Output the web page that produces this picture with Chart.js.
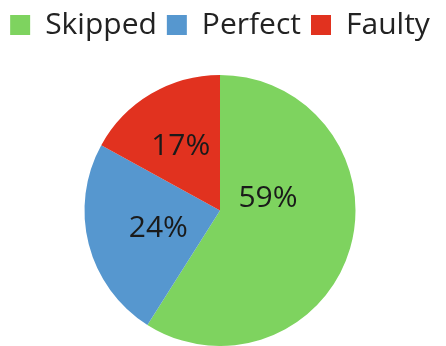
<!DOCTYPE html>
<html>
<head>
<meta charset="utf-8">
<script src="https://cdn.jsdelivr.net/npm/chart.js@4"></script>
<style>
  html, body { margin: 0; padding: 0; background: #fff; }
  #wrap { width: 446px; height: 346px; }
</style>
</head>
<body>
<div id="wrap"><canvas id="pie-outcomes"></canvas></div>
<script>
  const categorias = ['Skipped', 'Perfect', 'Faulty'];
  const porcentajes = [59, 24, 17];
  const colores = ['#7ed35f', '#5697cf', '#e1321f'];

  // extra gap under the legend
  const legendGap = {
    id: 'legendGap',
    beforeInit(chart) {
      const fit = chart.legend.fit;
      chart.legend.fit = function () {
        fit.call(this);
        this.height += 25;
      };
    }
  };

  // percentage text inside each slice
  const sliceLabels = {
    id: 'sliceLabels',
    afterDatasetsDraw(chart, args, opts) {
      const ctx = chart.ctx;
      const meta = chart.getDatasetMeta(0);
      ctx.save();
      ctx.font = opts.font;
      ctx.fillStyle = opts.color;
      ctx.textAlign = 'center';
      ctx.textBaseline = 'middle';
      meta.data.forEach((arc, i) => {
        const p = arc.getProps(['x', 'y', 'startAngle', 'endAngle', 'outerRadius'], true);
        const mid = (p.startAngle + p.endAngle) / 2 + (opts.shift[i] || 0) * Math.PI / 180;
        const r = p.outerRadius * opts.radius[i];
        ctx.fillText(porcentajes[i] + '%', p.x + Math.cos(mid) * r, p.y + Math.sin(mid) * r + 2);
      });
      ctx.restore();
    }
  };

  new Chart(document.getElementById('pie-outcomes'), {
    type: 'pie',
    data: {
      labels: categorias,
      datasets: [{
        data: porcentajes,
        backgroundColor: colores,
        borderWidth: 0
      }]
    },
    options: {
      responsive: true,
      maintainAspectRatio: false,
      animation: false,
      layout: { padding: { left: 0, right: 6, top: 0, bottom: 0 } },
      plugins: {
        legend: {
          position: 'top',
          labels: {
            boxWidth: 20,
            boxHeight: 20,
            padding: 10,
            color: '#222',
            font: { family: 'Open Sans', size: 30 }
          }
        },
        tooltip: { enabled: false },
        sliceLabels: {
          font: '30px "Open Sans"',
          color: '#1a1a1a',
          radius: [0.37, 0.47, 0.57],
          shift: [-33, 0, 0]
        }
      }
    },
    plugins: [legendGap, sliceLabels]
  });
</script>
</body>
</html>
